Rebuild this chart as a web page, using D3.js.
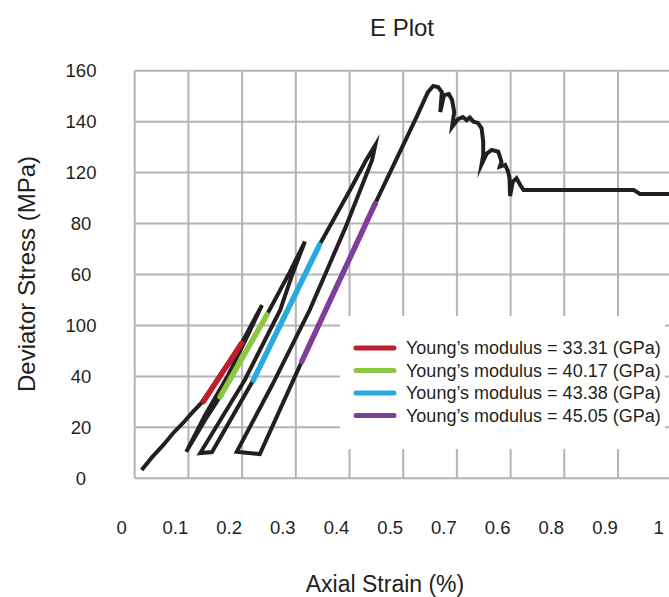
<!DOCTYPE html>
<html>
<head>
<meta charset="utf-8">
<script src="https://cdn.jsdelivr.net/npm/d3@7"></script>
<style>
  html, body { margin: 0; padding: 0; background: #fff; }
  svg { display: block; font-family: "Liberation Sans", Arial, sans-serif; }
</style>
</head>
<body>
<div id="chart"></div>
<script>
// Tick positions and the labels printed at them (labels kept exactly as in the figure)
const xTickValues = [0, 0.1, 0.2, 0.3, 0.4, 0.5, 0.6, 0.7, 0.8, 0.9, 1];
const xTickLabels = ["0", "0.1", "0.2", "0.3", "0.4", "0.5", "0.7", "0.6", "0.8", "0.9", "1"];
const yTickValues = [0, 20, 40, 60, 80, 100, 120, 140, 160];
const yTickLabels = ["0", "20", "40", "100", "60", "80", "120", "140", "160"];

// Stress-strain curve (strain %, stress MPa)
const strain = [
  0.013, 0.032, 0.053, 0.071, 0.091, 0.107, 0.125, 0.199, 0.237,
  0.211, 0.174, 0.131, 0.096,
  0.131, 0.159, 0.246, 0.289, 0.317,
  0.293, 0.271, 0.205, 0.122, 0.144,
  0.221, 0.344, 0.401, 0.431, 0.448,
  0.442, 0.392, 0.326, 0.256, 0.190, 0.233,
  0.311, 0.448, 0.525, 0.546, 0.556, 0.565, 0.572, 0.569, 0.576, 0.585,
  0.591, 0.595, 0.591, 0.602, 0.611, 0.618, 0.624, 0.631, 0.639, 0.646,
  0.649, 0.649, 0.646, 0.656, 0.665, 0.677, 0.683, 0.680, 0.690, 0.695,
  0.698, 0.699, 0.704, 0.711, 0.718, 0.724, 0.929, 0.941, 0.995
];
const stress = [
  3.3, 8.2, 13.0, 17.6, 21.9, 25.8, 29.8, 53.0, 68.0,
  56.3, 40.5, 24.8, 10.4,
  22.9, 32.0, 64.1, 81.0, 92.9,
  79.8, 66.1, 38.6, 9.9, 10.3,
  38.6, 91.6, 113.2, 124.9, 130.8,
  124.9, 98.2, 66.1, 36.6, 10.4, 9.5,
  45.8, 107.9, 141.9, 151.6, 154.0, 153.6, 151.6, 143.8, 150.4, 150.8,
  148.5, 143.8, 137.9, 141.0, 141.8, 140.6, 141.6, 140.0, 139.5, 137.4,
  132.1, 126.9, 123.2, 127.6, 128.9, 128.2, 124.3, 122.3, 123.0, 120.6,
  117.9, 110.8, 116.4, 117.8, 115.1, 113.2, 113.2, 111.6, 111.6
];

// Young's modulus fits: end points of each fitted segment
const moduli = ["33.31", "40.17", "43.38", "45.05"];
const fitStrain = [[0.128, 0.199], [0.159, 0.246], [0.221, 0.344], [0.311, 0.448]];
const fitStress = [[30.1, 53.0], [32.0, 64.1], [38.6, 91.6], [45.8, 107.9]];
const fitColors = ["#be1e2d", "#8dc63f", "#27aae1", "#7f3f98"];

const width = 669, height = 597;
const plot = { left: 134.7, top: 70.7, right: 671.7, bottom: 478.3 };

const svg = d3.select("#chart").append("svg")
    .attr("width", width)
    .attr("height", height);

svg.append("rect").attr("width", width).attr("height", height).attr("fill", "#fff");

const x = d3.scaleLinear().domain([0, 1]).range([plot.left, plot.right]);
const y = d3.scaleLinear().domain([0, 160]).range([plot.bottom, plot.top]);

// grid
const grid = svg.append("g").attr("stroke", "#b4b4b8").attr("stroke-width", 2);
grid.selectAll(".vline")
    .data(xTickValues)
    .enter().append("line")
      .attr("x1", d => x(d)).attr("x2", d => x(d))
      .attr("y1", y(160)).attr("y2", y(0));
grid.selectAll(".hline")
    .data(yTickValues)
    .enter().append("line")
      .attr("x1", x(0)).attr("x2", x(1))
      .attr("y1", d => y(d)).attr("y2", d => y(d));

// legend box sits over the grid
svg.append("rect")
    .attr("x", 340).attr("y", 316)
    .attr("width", 325).attr("height", 133)
    .attr("fill", "#fff");

// axes (labels only)
const xAxis = svg.append("g")
    .attr("transform", "translate(-13.5, 520.5)")
    .call(d3.axisBottom(x).tickValues(xTickValues)
        .tickFormat((d, i) => xTickLabels[i]).tickSize(0).tickPadding(0));
xAxis.select(".domain").remove();
xAxis.selectAll("text")
    .attr("font-size", "18.5px")
    .attr("font-family", "Liberation Sans, Arial, sans-serif")
    .attr("fill", "#231f20");

const yAxis = svg.append("g")
    .attr("transform", "translate(81, 0)")
    .call(d3.axisLeft(y).tickValues(yTickValues)
        .tickFormat((d, i) => yTickLabels[i]).tickSize(0).tickPadding(0));
yAxis.select(".domain").remove();
yAxis.selectAll("text")
    .attr("text-anchor", "middle")
    .attr("font-size", "18.5px")
    .attr("font-family", "Liberation Sans, Arial, sans-serif")
    .attr("fill", "#231f20");

// stress-strain curve
const curve = strain.map((s, i) => [s, stress[i]]);
svg.append("path")
    .datum(curve)
    .attr("fill", "none")
    .attr("stroke", "#231f20")
    .attr("stroke-width", 4)
    .attr("stroke-linejoin", "miter")
    .attr("stroke-miterlimit", 8)
    .attr("d", d3.line().x(d => x(d[0])).y(d => y(d[1])));

// fitted modulus segments
svg.selectAll(".fit")
    .data(moduli)
    .enter().append("line")
      .attr("x1", (d, i) => x(fitStrain[i][0]))
      .attr("y1", (d, i) => y(fitStress[i][0]))
      .attr("x2", (d, i) => x(fitStrain[i][1]))
      .attr("y2", (d, i) => y(fitStress[i][1]))
      .attr("stroke", (d, i) => fitColors[i])
      .attr("stroke-width", 5.5)
      .attr("stroke-linecap", "round");

// legend
const legend = svg.append("g").attr("transform", "translate(355, 348)");
const rows = legend.selectAll(".row")
    .data(moduli)
    .enter().append("g")
      .attr("transform", (d, i) => `translate(0, ${i * 22.5})`);
rows.append("line")
    .attr("x1", 1).attr("x2", 39)
    .attr("stroke", (d, i) => fitColors[i])
    .attr("stroke-width", 5)
    .attr("stroke-linecap", "round");
rows.append("text")
    .attr("x", 51)
    .attr("dy", "0.35em")
    .attr("font-size", "18px")
    .attr("fill", "#231f20")
    .text(d => `Young’s modulus = ${d} (GPa)`);

// titles
svg.append("text")
    .attr("x", 402).attr("y", 36)
    .attr("text-anchor", "middle")
    .attr("font-size", "24px")
    .attr("fill", "#231f20")
    .text("E Plot");

svg.append("text")
    .attr("x", 385).attr("y", 592)
    .attr("text-anchor", "middle")
    .attr("font-size", "23px")
    .attr("fill", "#231f20")
    .text("Axial Strain (%)");

svg.append("text")
    .attr("transform", "translate(35, 274) rotate(-90)")
    .attr("text-anchor", "middle")
    .attr("font-size", "24px")
    .attr("fill", "#231f20")
    .text("Deviator Stress (MPa)");
</script>
</body>
</html>
